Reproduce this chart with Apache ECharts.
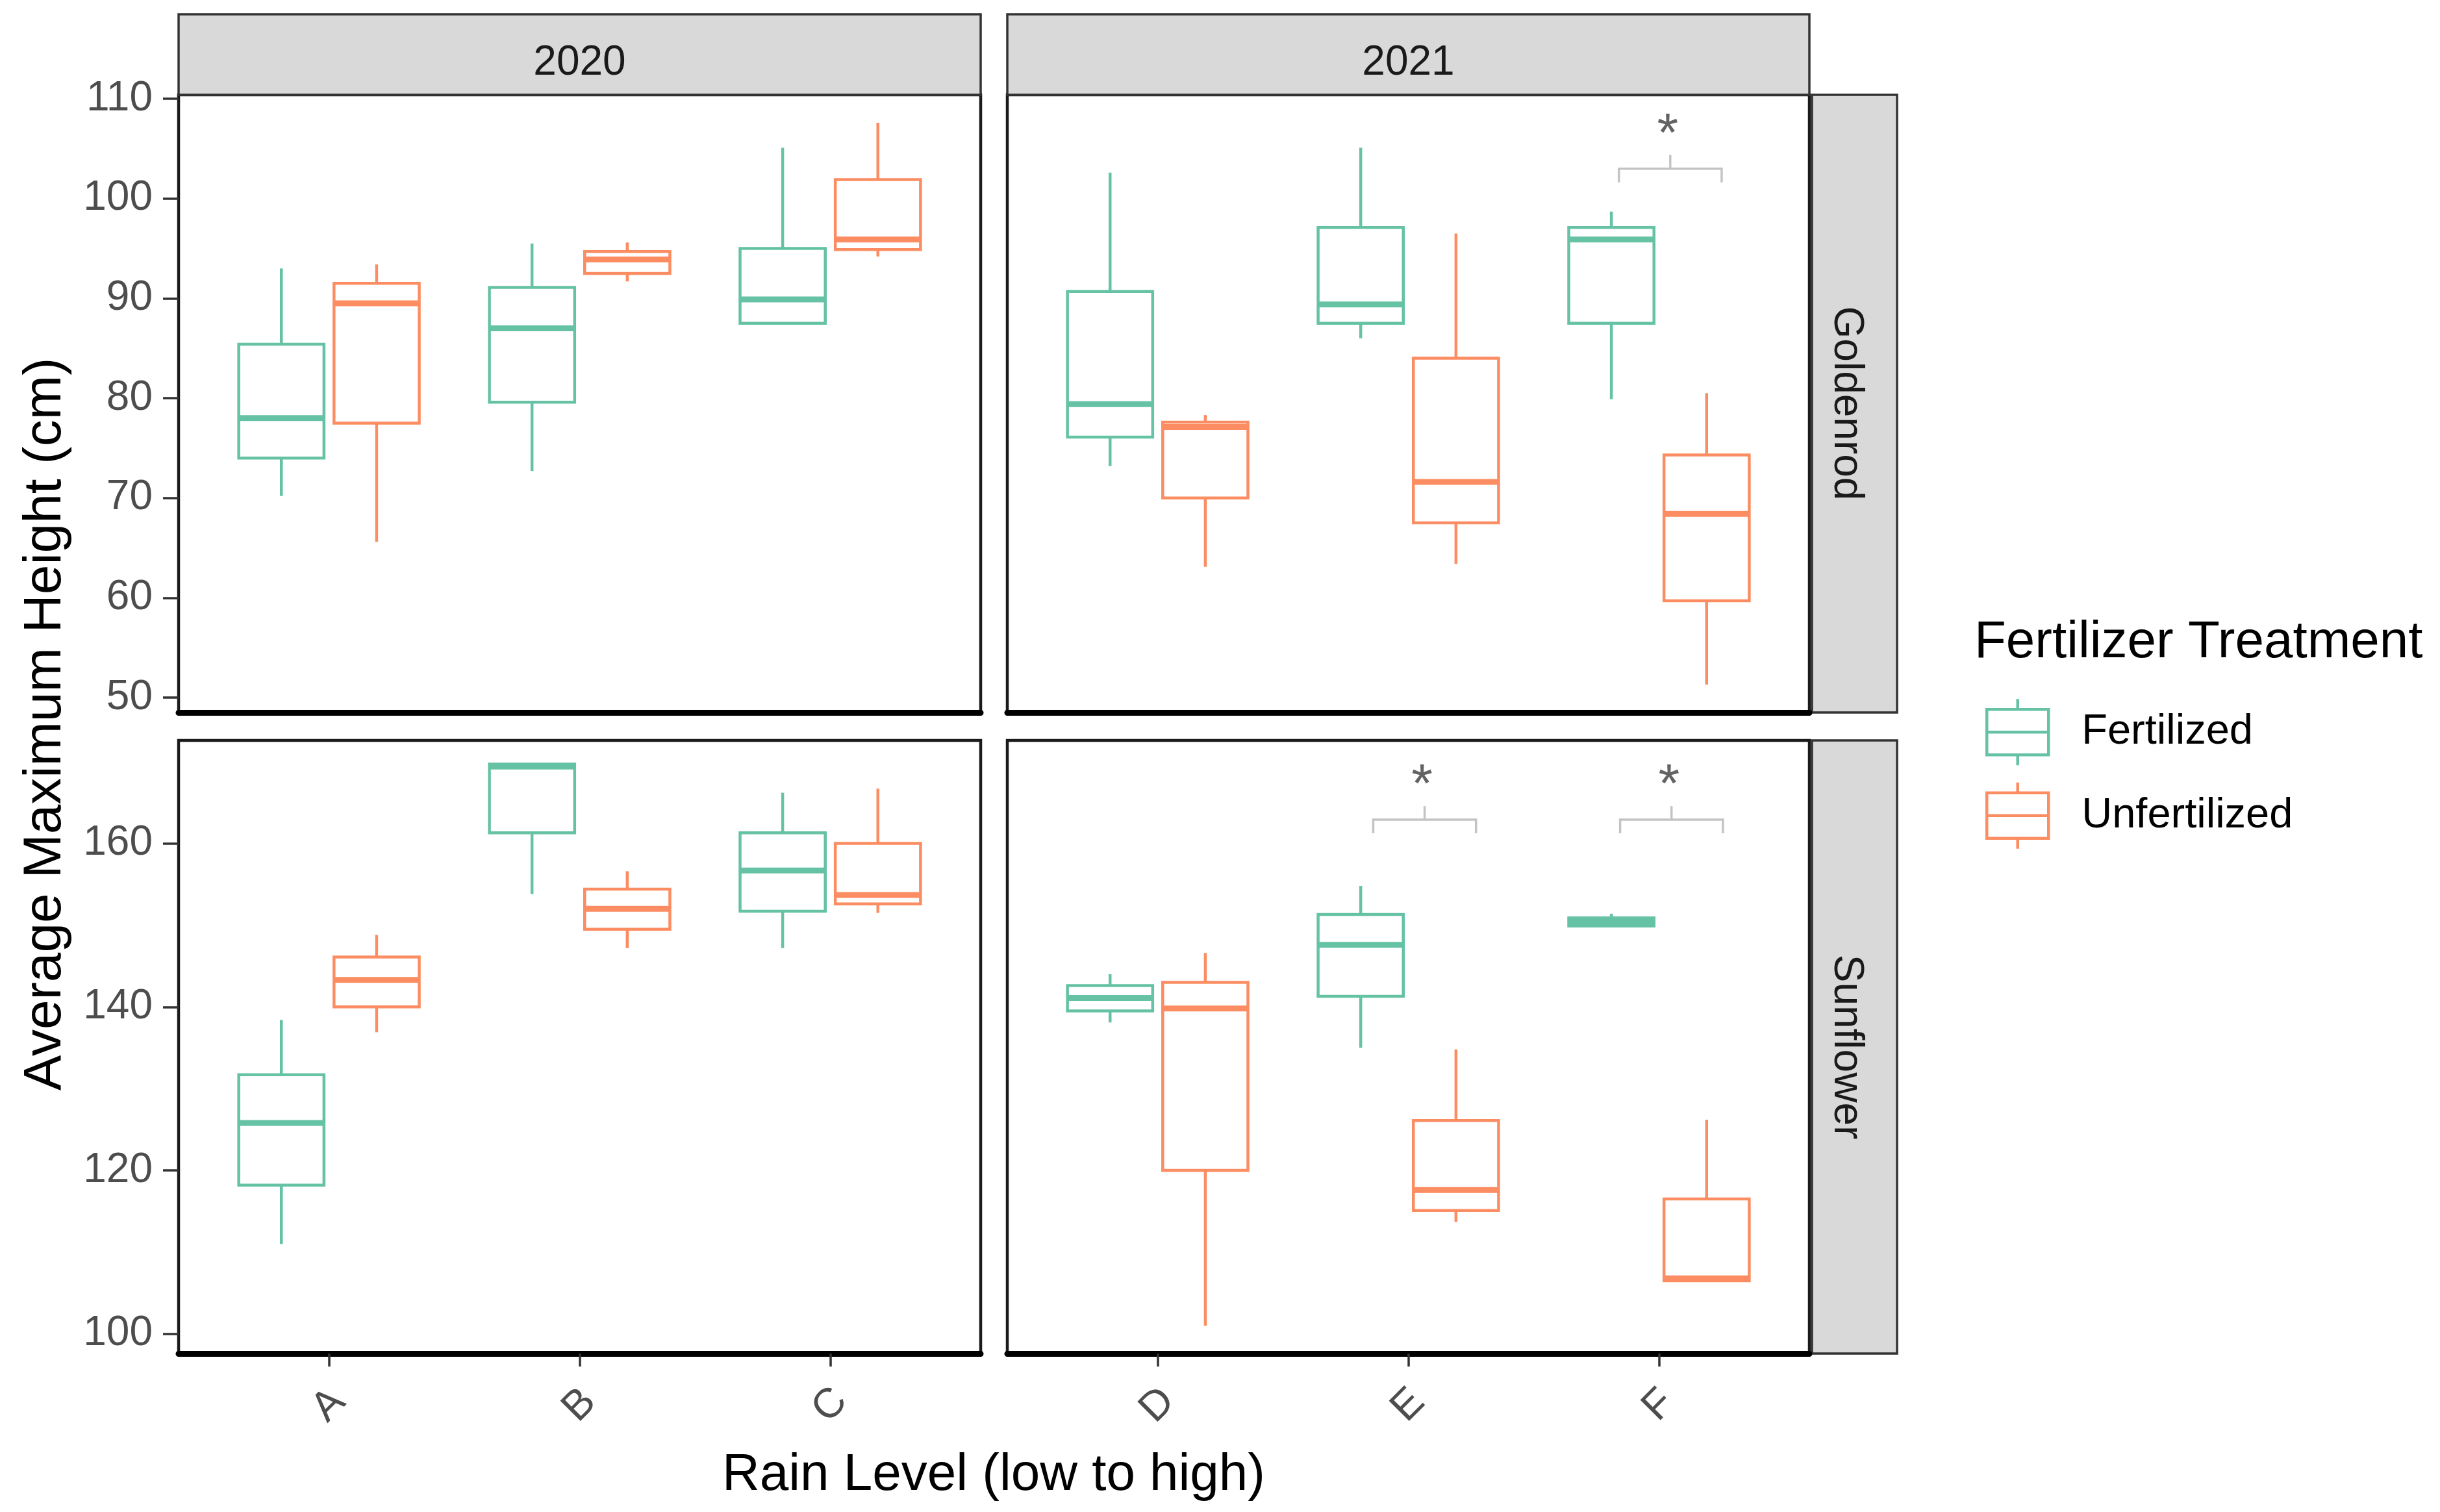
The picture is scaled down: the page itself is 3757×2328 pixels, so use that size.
<!DOCTYPE html>
<html>
<head>
<meta charset="utf-8">
<script src="https://cdn.jsdelivr.net/npm/echarts@6/dist/echarts.min.js"></script>
<style>
html,body{margin:0;padding:0;background:#fff;}
#chart{width:3757px;height:2328px;}
</style>
</head>
<body>
<div id="chart"></div>
<script>
// ---------------- DATA ----------------
const rainLevels2020 = ['A', 'B', 'C'];
const rainLevels2021 = ['D', 'E', 'F'];
const goldenrodTicks = [50, 60, 70, 80, 90, 100, 110];
const sunflowerTicks = [100, 120, 140, 160];
const seriesNames = ['Fertilized', 'Unfertilized'];

// each row: [lower whisker, Q1, median, Q3, upper whisker], one row per rain level
const goldenrod2020Fert   = [[70.2, 74.0, 78.0, 85.4, 93.0], [72.7, 79.6, 87.0, 91.1, 95.5], [87.5, 87.5, 89.9, 95.0, 105.1]];
const goldenrod2020Unfert = [[65.6, 77.5, 89.5, 91.5, 93.4], [91.7, 92.5, 93.9, 94.7, 95.6], [94.2, 94.9, 95.9, 101.9, 107.6]];
const goldenrod2021Fert   = [[73.2, 76.1, 79.4, 90.7, 102.6], [86.0, 87.5, 89.4, 97.1, 105.1], [79.9, 87.5, 95.9, 97.1, 98.7]];
const goldenrod2021Unfert = [[63.1, 70.0, 77.1, 77.6, 78.3], [63.4, 67.5, 71.6, 84.0, 96.5], [51.3, 59.7, 68.4, 74.3, 80.5]];
const sunflower2020Fert   = [[111.0, 118.2, 125.8, 131.7, 138.4], [153.8, 161.3, 169.4, 169.7, 169.7], [147.2, 151.7, 156.7, 161.3, 166.2]];
const sunflower2020Unfert = [[136.9, 140.0, 143.3, 146.1, 148.8], [147.2, 149.5, 152.0, 154.4, 156.6], [151.5, 152.6, 153.7, 160.0, 166.7]];
const sunflower2021Fert   = [[138.1, 139.5, 141.1, 142.6, 144.0], [135.0, 141.3, 147.6, 151.3, 154.8], [149.9, 149.9, 150.4, 150.9, 151.4]];
const sunflower2021Unfert = [[101.0, 120.0, 139.8, 143.0, 146.6], [113.7, 115.1, 117.6, 126.1, 134.8], [106.5, 106.5, 106.8, 116.5, 126.2]];

// significance brackets (x in rain-level units, 1..3; y in cm)
const sigPanel = [1, 3, 3];
const sigXmin = [2.84, 1.86, 2.845];
const sigXmax = [3.25, 2.27, 3.255];
const sigY = [103.0, 162.9, 162.9];
const sigLabel = ['*', '*', '*'];

// ---------------- STYLE ----------------
const FONT = '"Liberation Sans", Arial, sans-serif';
const GREEN = '#66C2A5';
const ORANGE = '#FC8D62';
const BOX_W = 0.34;
const DODGE = 0.19;
const LW = 4.5;

const panels = [
  { left: 275, top: 146, height: 951, yMin: 48.5, yMax: 110.4, ticks: goldenrodTicks, cats: rainLevels2020, fert: goldenrod2020Fert, unfert: goldenrod2020Unfert, showY: true, showX: false },
  { left: 1551, top: 146, height: 951, yMin: 48.5, yMax: 110.4, ticks: goldenrodTicks, cats: rainLevels2021, fert: goldenrod2021Fert, unfert: goldenrod2021Unfert, showY: false, showX: false },
  { left: 275, top: 1140, height: 944, yMin: 97.6, yMax: 172.6, ticks: sunflowerTicks, cats: rainLevels2020, fert: sunflower2020Fert, unfert: sunflower2020Unfert, showY: true, showX: true },
  { left: 1551, top: 1140, height: 944, yMin: 97.6, yMax: 172.6, ticks: sunflowerTicks, cats: rainLevels2021, fert: sunflower2021Fert, unfert: sunflower2021Unfert, showY: false, showX: true }
];
const PW = 1235;

function makeBoxRender(offset, color) {
  return function (params, api) {
    const x = api.value(0) + offset;
    const lo = api.coord([x, api.value(1)]);
    const q1 = api.coord([x, api.value(2)]);
    const md = api.coord([x, api.value(3)]);
    const q3 = api.coord([x, api.value(4)]);
    const hi = api.coord([x, api.value(5)]);
    const half = api.size([BOX_W, 0])[0] / 2;
    const cx = lo[0];
    const st = { stroke: color, lineWidth: LW, fill: null };
    return {
      type: 'group',
      children: [
        { type: 'line', shape: { x1: cx, y1: hi[1], x2: cx, y2: q3[1] }, style: st },
        { type: 'line', shape: { x1: cx, y1: q1[1], x2: cx, y2: lo[1] }, style: st },
        { type: 'rect', shape: { x: cx - half, y: q3[1], width: 2 * half, height: q1[1] - q3[1] }, style: { stroke: color, lineWidth: LW, fill: '#fff' } },
        { type: 'line', shape: { x1: cx - half, y1: md[1], x2: cx + half, y2: md[1] }, style: { stroke: color, lineWidth: LW * 2 } }
      ]
    };
  };
}

function makeBracketRender(idxList) {
  return function (params, api) {
    const a = api.coord([api.value(0), api.value(2)]);
    const b = api.coord([api.value(1), api.value(2)]);
    const mid = (a[0] + b[0]) / 2;
    const st = { stroke: '#C4C4C4', lineWidth: 3.5, fill: null };
    return {
      type: 'group',
      children: [
        { type: 'polyline', shape: { points: [[a[0], a[1] + 21], [a[0], a[1]], [b[0], b[1]], [b[0], b[1] + 21]] }, style: st },
        { type: 'line', shape: { x1: mid, y1: a[1], x2: mid, y2: a[1] - 21 }, style: st },
        { type: 'text', x: mid - 4, y: a[1] - 50, style: { text: sigLabel[idxList[params.dataIndex]], fontSize: 84, fontFamily: FONT, fill: '#636363', align: 'center', verticalAlign: 'middle' } }
      ]
    };
  };
}

const grids = [], xAxes = [], yAxes = [], series = [];
panels.forEach(function (p, i) {
  grids.push({ left: p.left, top: p.top, width: PW, height: p.height, show: true, borderColor: '#1a1a1a', borderWidth: 4.5, backgroundColor: '#fff', containLabel: false });
  const cats = p.cats;
  xAxes.push({
    type: 'value', gridIndex: i, min: 0.4, max: 3.6,
    splitLine: { show: false },
    axisLine: { show: true, onZero: false, lineStyle: { color: '#000', width: 9 } },
    axisTick: { show: p.showX, customValues: [1, 2, 3], length: 20, lineStyle: { color: '#333', width: 3.5 } },
    axisLabel: {
      show: p.showX, customValues: [1, 2, 3], rotate: 45, margin: 80,
      align: 'center', verticalAlign: 'middle',
      fontSize: 64, fontFamily: FONT, color: '#4D4D4D',
      formatter: function (v) { return cats[Math.round(v) - 1]; }
    }
  });
  yAxes.push({
    type: 'value', gridIndex: i, min: p.yMin, max: p.yMax,
    splitLine: { show: false },
    axisLine: { show: false },
    axisTick: { show: p.showY, customValues: p.ticks, length: 24, lineStyle: { color: '#333', width: 3.5 } },
    axisLabel: { show: p.showY, customValues: p.ticks, margin: 40, fontSize: 64, fontFamily: FONT, color: '#4D4D4D' }
  });
  const fertData = p.fert.map(function (r, k) { return [k + 1].concat(r); });
  const unfertData = p.unfert.map(function (r, k) { return [k + 1].concat(r); });
  series.push({
    type: 'custom', name: seriesNames[0], xAxisIndex: i, yAxisIndex: i,
    itemStyle: { color: GREEN }, renderItem: makeBoxRender(-DODGE, GREEN),
    encode: { x: 0, y: [1, 2, 3, 4, 5] }, data: fertData, clip: false
  });
  series.push({
    type: 'custom', name: seriesNames[1], xAxisIndex: i, yAxisIndex: i,
    itemStyle: { color: ORANGE }, renderItem: makeBoxRender(DODGE, ORANGE),
    encode: { x: 0, y: [1, 2, 3, 4, 5] }, data: unfertData, clip: false
  });
  const idxList = [];
  sigPanel.forEach(function (sp, k) { if (sp === i) idxList.push(k); });
  if (idxList.length) {
    series.push({
      type: 'custom', name: 'significance', xAxisIndex: i, yAxisIndex: i,
      renderItem: makeBracketRender(idxList), encode: { x: [0, 1], y: 2 },
      data: idxList.map(function (k) { return [sigXmin[k], sigXmax[k], sigY[k]]; }),
      clip: false, silent: true
    });
  }
});

const STRIP_FILL = '#D9D9D9', STRIP_STROKE = '#333333';
const graphics = [
  { type: 'rect', shape: { x: 275, y: 22, width: PW, height: 124 }, style: { fill: STRIP_FILL, stroke: STRIP_STROKE, lineWidth: 3.5 } },
  { type: 'rect', shape: { x: 1551, y: 22, width: PW, height: 124 }, style: { fill: STRIP_FILL, stroke: STRIP_STROKE, lineWidth: 3.5 } },
  { type: 'rect', shape: { x: 2790, y: 146, width: 131, height: 951 }, style: { fill: STRIP_FILL, stroke: STRIP_STROKE, lineWidth: 3.5 } },
  { type: 'rect', shape: { x: 2790, y: 1140, width: 131, height: 944 }, style: { fill: STRIP_FILL, stroke: STRIP_STROKE, lineWidth: 3.5 } },
  { type: 'text', x: 275 + PW / 2, y: 97, style: { text: '2020', fontSize: 64, fontFamily: FONT, fill: '#1A1A1A', align: 'center', verticalAlign: 'middle' } },
  { type: 'text', x: 1551 + PW / 2, y: 97, style: { text: '2021', fontSize: 64, fontFamily: FONT, fill: '#1A1A1A', align: 'center', verticalAlign: 'middle' } },
  { type: 'text', x: 2843, y: 621, rotation: -Math.PI / 2, style: { text: 'Goldenrod', fontSize: 64, fontFamily: FONT, fill: '#1A1A1A', align: 'center', verticalAlign: 'middle' } },
  { type: 'text', x: 2843, y: 1612, rotation: -Math.PI / 2, style: { text: 'Sunflower', fontSize: 64, fontFamily: FONT, fill: '#1A1A1A', align: 'center', verticalAlign: 'middle' } },
  { type: 'text', x: 70, y: 1115, rotation: Math.PI / 2, style: { text: 'Average Maximum Height (cm)', fontSize: 82, fontFamily: FONT, fill: '#000', align: 'center', verticalAlign: 'middle' } },
  { type: 'text', x: 1530, y: 2272, style: { text: 'Rain Level (low to high)', fontSize: 80, fontFamily: FONT, fill: '#000', align: 'center', verticalAlign: 'middle' } },
  { type: 'text', x: 3040, y: 990, style: { text: 'Fertilizer Treatment', fontSize: 80, fontFamily: FONT, fill: '#000', align: 'left', verticalAlign: 'middle' } }
];

const boxIcon = 'path://M0,16 L95,16 L95,86 L0,86 Z M0,51 L95,51 M47.5,0 L47.5,16 M47.5,86 L47.5,102';

const option = {
  animation: false,
  backgroundColor: '#fff',
  grid: grids,
  xAxis: xAxes,
  yAxis: yAxes,
  series: series,
  legend: {
    orient: 'vertical', left: 3057, top: 1074, padding: 0,
    itemWidth: 95, itemHeight: 102, itemGap: 22,
    icon: boxIcon, selectedMode: false,
    textStyle: { fontSize: 65, fontFamily: FONT, color: '#000', padding: [0, 0, 0, 46] },
    data: [
      { name: 'Fertilized', itemStyle: { color: 'rgba(0,0,0,0)', borderColor: GREEN, borderWidth: LW } },
      { name: 'Unfertilized', itemStyle: { color: 'rgba(0,0,0,0)', borderColor: ORANGE, borderWidth: LW } }
    ]
  },
  graphic: graphics
};

const chart = echarts.init(document.getElementById('chart'), null, { renderer: 'canvas' });
chart.setOption(option);
</script>
</body>
</html>
